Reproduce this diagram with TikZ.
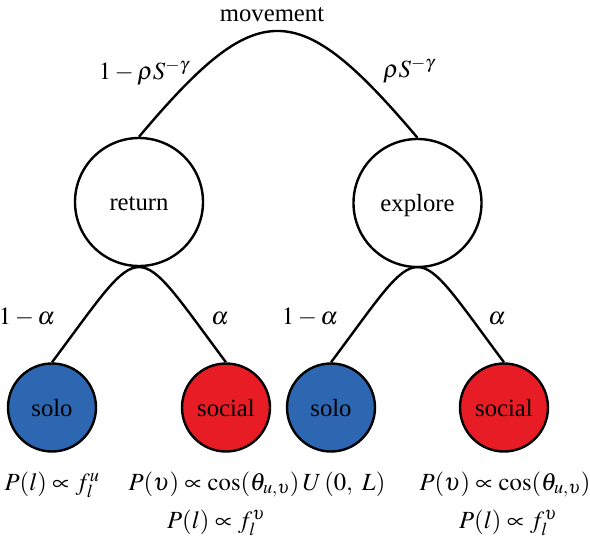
\documentclass[tikz,border=0pt]{standalone}
\usepackage{mathptmx}
\usepackage{fontspec}
\setmainfont{Liberation Serif}
\definecolor{soloblue}{RGB}{45,103,177}
\definecolor{socialred}{RGB}{232,28,36}
\begin{document}
\begin{tikzpicture}[x=1pt,y=-1pt, line width=2.4pt,
  every node/.style={font=\fontsize{24.7}{30}\selectfont, inner sep=0pt},
  bignode/.style={circle, draw, minimum size=128pt, text height=17pt, text depth=0pt},
  leaf/.style={circle, draw, minimum size=88pt, text height=17pt, text depth=0pt},
  solonode/.style={leaf, fill=soloblue},
  socnode/.style={leaf, fill=socialred},
  lbl/.style={anchor=base}]
\useasboundingbox (0,0) rectangle (590,555);
% tree nodes
\node[lbl] (mov) at (272,21) {movement};
\node[bignode] (ret) at (139,202) {return};
\node[bignode] (exp) at (417.5,203) {explore};
\node[solonode] (soloA) at (52,407.5) {solo};
\node[socnode] (socA) at (226,407.5) {social};
\node[solonode] (soloB) at (331,407.5) {solo};
\node[socnode] (socB) at (504,407.5) {social};
% connectors
\draw (ret.north) .. controls (258,-4.5) and (297,-4.5) .. (exp.north);
\draw (soloA.north) .. controls (147,235.3) and (131,235.3) .. (socA.north);
\draw (soloB.north) .. controls (426,235.3) and (409,235.3) .. (socB.north);
% branch labels
\node[lbl] (pret) at (144,79) {$1-\rho S^{-\gamma}$};
\node[lbl] (pexp) at (409,77.5) {$\rho S^{-\gamma}$};
\node[lbl] (aA1) at (27,324) {$1-\alpha$};
\node[lbl] (aA2) at (220,324) {$\alpha$};
\node[lbl] (aB1) at (310,324) {$1-\alpha$};
\node[lbl] (aB2) at (497,324) {$\alpha$};
% formulas
\node[lbl] (fA) at (52,490) {$P(l)\propto f_l^u$};
\node[lbl] (fB1) at (214,490) {$P(\upsilon)\propto\cos(\theta_{u,\upsilon})$};
\node[lbl] (fB2) at (216,528) {$P(l)\propto f_l^\upsilon$};
\node[lbl] (fC) at (344,490) {$U\,(0,\ L)$};
\node[lbl] (fD1) at (505,490) {$P(\upsilon)\propto\cos(\theta_{u,\upsilon})$};
\node[lbl] (fD2) at (508,528) {$P(l)\propto f_l^\upsilon$};
\end{tikzpicture}
\end{document}
